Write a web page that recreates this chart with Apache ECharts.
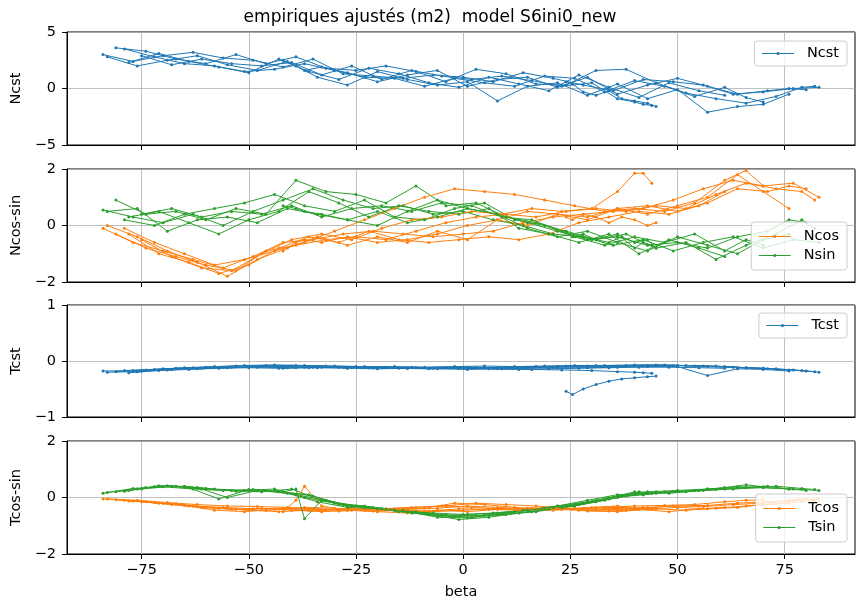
<!DOCTYPE html>
<html>
<head>
<meta charset="utf-8">
<script src="https://cdn.jsdelivr.net/npm/echarts@6/dist/echarts.min.js"></script>
<style>
  html, body { margin: 0; padding: 0; background: #fff; }
  #chart { width: 860px; height: 603px; }
</style>
</head>
<body>
<div id="chart"></div>
<script>
// beta positions of each passage (one array per passage)
const trackBeta = [
  [-84,-77,-70,-63,-56,-49,-42,-35,-28,-21,-14,-7,0,7,14,21,28,35,42,49,56,63,70,77,83],
  [-81,-74,-67,-60,-53,-46,-39,-32,-25,-18,-11,-4,3,10,17,24,31,38,45,52,59,66,73,79,82],
  [-83,-76,-69,-62,-55,-48,-41,-34,-27,-20,-13,-6,1,8,15,22,29,36,43,50,57,64,70,76],
  [-79,-72,-65,-58,-51,-44,-37,-30,-23,-16,-9,-2,5,12,19,26,33,40,47,54,61,66,70],
  [-78,-71,-64,-57,-50,-43,-36,-29,-22,-15,-8,-1,6,13,20,27,34,41,48,55,61],
  [-75,-68,-61,-54,-47,-40,-33,-26,-19,-12,-5,2,9,16,23,30,36,40,42,44],
  [-42,-39,-37,-33,-27,-20,-13,-6,1,8,15,22,29,36,43,50,57,64,71,76,80],
  [24,25.5,28,31,34,37,40,43,45]
];

const ncst = [
  [3.0,2.4,2.9,3.2,2.7,2.5,1.9,2.6,1.3,1.1,0.9,1.2,1.0,0.6,1.4,0.9,0.3,-0.2,0.8,0.6,0.3,-0.5,-0.3,0.0,0.1],
  [3.6,3.3,2.6,2.2,3.0,2.2,2.8,1.8,1.6,2.0,1.5,0.6,1.7,1.3,0.4,0.3,1.6,1.7,0.5,-0.4,-0.9,-1.3,-0.7,0.1,0.2],
  [2.8,2.0,2.5,2.9,2.1,1.6,2.4,1.0,0.3,1.5,0.8,0.3,0.6,-1.1,0.2,0.5,-0.6,0.4,-0.9,-0.1,-2.1,-1.6,-1.4,-0.5],
  [3.5,2.8,2.2,2.0,1.5,1.7,2.2,1.6,1.0,0.9,0.2,0.9,0.5,0.2,1.1,0.9,-0.3,0.7,0.2,-0.7,0.1,-0.8,-1.2],
  [2.3,3.1,2.4,1.9,1.4,2.6,1.5,0.8,1.8,1.3,0.5,0.1,1.0,0.4,-0.2,1.2,0.1,-0.8,0.5,-0.2,-0.6],
  [2.9,2.1,2.6,2.2,2.0,2.3,1.2,2.0,0.8,1.6,1.1,0.8,1.1,0.7,0.2,0.5,-0.9,-1.2,-1.4,-1.5],
  [2.5,2.0,1.6,1.9,1.4,0.6,1.2,1.6,0.2,0.8,1.0,0.1,1.0,-0.5,0.3,0.9,0.2,-0.5,-0.2,0.0,-0.1],
  [0.6,0.4,-0.3,-0.6,-0.2,-0.9,-1.1,-1.3,-1.6]
];

const ncos = [
  [-0.1,-0.6,-0.9,-1.2,-1.5,-1.1,-0.6,-0.5,-0.3,-0.2,-0.3,-0.4,-0.3,-0.2,0.1,0.3,0.4,0.5,0.6,0.9,1.3,1.6,1.4,1.5,1.0],
  [-0.3,-0.8,-1.1,-1.4,-1.6,-0.9,-0.7,-0.5,-0.4,-0.5,-0.2,0.1,0.3,0.4,0.3,0.5,0.6,0.5,0.7,0.6,1.1,1.5,1.3,1.2,0.9],
  [0.0,-0.4,-0.9,-1.3,-1.8,-1.2,-0.8,-0.4,-0.7,-0.4,-0.6,-0.2,-0.5,0.2,0.0,0.4,0.3,0.6,0.4,0.7,1.0,1.8,1.2,0.6],
  [-0.1,-0.6,-1.0,-1.4,-1.2,-0.9,-0.6,-0.2,0.2,0.6,1.0,1.3,1.2,1.1,0.9,0.7,0.5,0.6,0.5,0.8,1.6,1.95,1.4],
  [-0.3,-1.0,-1.3,-1.7,-1.4,-0.8,-0.4,-0.6,-0.2,-0.5,-0.6,-0.5,-0.4,-0.5,-0.3,0.1,0.3,0.5,0.4,0.7,1.2],
  [-0.5,-1.1,-1.5,-1.6,-1.0,-0.5,-0.3,-0.5,-0.1,0.2,0.3,0.5,0.4,0.6,0.5,0.6,1.2,1.85,1.85,1.5],
  [-0.9,-0.6,-0.5,-0.6,-0.4,-0.6,-0.5,-0.3,0.0,0.2,0.5,0.4,0.2,0.6,0.7,0.5,0.8,1.3,1.2,1.4,1.3],
  [0.3,0.2,0.4,0.3,0.1,0.3,0.2,0.0,0.1]
];

const nsin = [
  [0.55,0.3,0.1,0.4,0.0,0.5,0.9,1.3,0.9,0.6,0.7,0.4,0.5,0.2,0.0,-0.3,-0.4,-0.7,-0.5,-0.9,-0.6,-0.4,-0.8,-0.5,-0.6],
  [0.9,0.4,0.5,0.2,0.6,0.4,1.6,1.2,1.1,0.8,1.4,0.7,0.8,0.3,0.1,-0.2,-0.5,-0.3,-0.8,-0.6,-1.2,-0.7,-0.3,0.2,-0.1],
  [0.5,0.6,-0.2,0.2,0.3,0.1,0.6,0.4,0.2,0.5,0.1,0.3,0.6,0.4,-0.1,-0.4,-0.2,-0.6,-0.9,-0.4,-0.7,-1.0,-0.5,-0.3],
  [0.2,0.0,0.4,0.6,0.8,1.1,0.7,0.5,0.9,0.3,0.2,0.6,0.8,0.2,0.0,-0.4,-0.7,-0.4,-0.6,-0.3,-0.9,-0.5,-0.7],
  [0.3,0.5,0.1,-0.3,0.2,0.5,1.2,0.8,0.3,0.7,0.5,0.4,0.6,-0.1,-0.3,-0.6,-0.3,-1.0,-0.5,-0.8,-1.1],
  [0.4,0.6,0.3,0.5,0.4,0.7,0.3,0.6,0.7,0.5,0.8,0.7,0.3,0.2,-0.2,-0.5,-0.3,-0.8,-0.6,-0.7],
  [0.7,0.6,0.5,0.4,0.2,0.0,0.5,0.9,0.6,0.4,0.1,-0.2,-0.5,-0.4,-0.7,-0.6,-0.8,-0.4,-0.2,0.2,0.1],
  [-0.2,-0.4,-0.3,-0.5,-0.6,-0.4,-0.6,-0.5,-0.8]
];

const tcst = [
  [-0.18,-0.17,-0.14,-0.12,-0.11,-0.10,-0.10,-0.11,-0.11,-0.12,-0.12,-0.13,-0.12,-0.13,-0.12,-0.11,-0.10,-0.10,-0.09,-0.08,-0.09,-0.11,-0.13,-0.16,-0.20],
  [-0.19,-0.16,-0.13,-0.11,-0.09,-0.08,-0.08,-0.09,-0.10,-0.11,-0.12,-0.11,-0.12,-0.11,-0.10,-0.09,-0.08,-0.08,-0.07,-0.08,-0.09,-0.12,-0.14,-0.17,-0.19],
  [-0.20,-0.19,-0.16,-0.14,-0.12,-0.11,-0.12,-0.12,-0.13,-0.14,-0.13,-0.14,-0.15,-0.14,-0.13,-0.12,-0.12,-0.11,-0.10,-0.10,-0.26,-0.14,-0.15,-0.18],
  [-0.17,-0.15,-0.12,-0.10,-0.08,-0.07,-0.08,-0.09,-0.10,-0.10,-0.11,-0.10,-0.09,-0.10,-0.09,-0.08,-0.08,-0.07,-0.07,-0.09,-0.10,-0.12,-0.13],
  [-0.21,-0.17,-0.15,-0.13,-0.12,-0.13,-0.12,-0.11,-0.12,-0.13,-0.14,-0.13,-0.14,-0.15,-0.14,-0.13,-0.12,-0.11,-0.11,-0.12,-0.13],
  [-0.18,-0.15,-0.13,-0.11,-0.10,-0.09,-0.10,-0.11,-0.12,-0.11,-0.12,-0.13,-0.14,-0.15,-0.16,-0.17,-0.19,-0.20,-0.21,-0.22],
  [-0.13,-0.12,-0.11,-0.11,-0.12,-0.12,-0.13,-0.12,-0.11,-0.12,-0.11,-0.10,-0.09,-0.09,-0.08,-0.08,-0.10,-0.12,-0.14,-0.16,-0.18],
  [-0.54,-0.60,-0.50,-0.42,-0.36,-0.32,-0.30,-0.28,-0.27]
];

const tcos = [
  [-0.05,-0.12,-0.20,-0.30,-0.35,-0.40,-0.38,-0.45,-0.42,-0.48,-0.45,-0.50,-0.45,-0.40,-0.42,-0.45,-0.40,-0.35,-0.38,-0.30,-0.32,-0.25,-0.20,-0.12,-0.05],
  [-0.08,-0.15,-0.22,-0.35,-0.42,-0.45,-0.40,-0.43,-0.38,-0.40,-0.35,-0.30,-0.20,-0.25,-0.30,-0.38,-0.42,-0.45,-0.40,-0.45,-0.38,-0.30,-0.22,-0.15,-0.10],
  [-0.05,-0.10,-0.18,-0.25,-0.30,-0.32,-0.35,-0.40,-0.45,-0.50,-0.55,-0.45,-0.50,-0.42,-0.38,-0.35,-0.48,-0.50,-0.42,-0.35,-0.40,-0.35,-0.25,-0.20],
  [-0.10,-0.18,-0.28,-0.45,-0.50,-0.42,-0.35,-0.38,-0.45,-0.40,-0.38,-0.20,-0.25,-0.35,-0.42,-0.38,-0.35,-0.30,-0.28,-0.25,-0.15,-0.10,-0.08],
  [-0.12,-0.20,-0.30,-0.38,-0.45,-0.50,-0.45,-0.48,-0.42,-0.45,-0.48,-0.40,-0.42,-0.45,-0.40,-0.45,-0.48,-0.42,-0.50,-0.40,-0.35],
  [-0.15,-0.25,-0.35,-0.42,-0.38,-0.45,-0.50,-0.45,-0.40,-0.35,-0.30,-0.35,-0.40,-0.38,-0.42,-0.35,-0.30,-0.38,-0.35,-0.40],
  [-0.50,-0.10,0.40,-0.30,-0.45,-0.48,-0.42,-0.38,-0.30,-0.35,-0.40,-0.38,-0.45,-0.42,-0.35,-0.30,-0.28,-0.20,-0.15,-0.10,-0.05],
  [-0.40,-0.42,-0.38,-0.35,-0.40,-0.38,-0.42,-0.40,-0.38]
];

const tsin = [
  [0.15,0.32,0.38,0.30,0.25,0.28,0.20,0.05,-0.25,-0.35,-0.45,-0.55,-0.60,-0.55,-0.45,-0.35,-0.20,0.00,0.10,0.20,0.25,0.30,0.35,0.30,0.25],
  [0.20,0.35,0.40,0.32,0.22,0.25,0.10,-0.10,-0.30,-0.42,-0.50,-0.62,-0.65,-0.60,-0.50,-0.35,-0.15,0.05,0.15,0.20,0.28,0.35,0.40,0.32,0.28],
  [0.18,0.30,0.42,0.35,0.00,0.25,0.15,-0.15,-0.35,-0.40,-0.50,-0.70,-0.72,-0.60,-0.45,-0.30,-0.10,0.10,0.15,0.20,0.30,0.38,0.35,0.30],
  [0.22,0.38,0.40,0.30,0.25,0.30,0.00,-0.20,-0.30,-0.45,-0.55,-0.68,-0.62,-0.50,-0.40,-0.30,-0.10,0.15,0.20,0.25,0.35,0.45,0.38],
  [0.25,0.42,0.35,-0.05,0.28,0.20,0.10,-0.25,-0.35,-0.50,-0.60,-0.78,-0.70,-0.55,-0.40,-0.25,-0.05,0.20,0.15,0.25,0.30],
  [0.30,0.40,0.30,0.25,0.20,0.30,-0.10,-0.30,-0.40,-0.55,-0.65,-0.70,-0.60,-0.50,-0.35,-0.15,0.05,0.20,0.10,0.15],
  [0.20,0.30,-0.75,-0.10,-0.30,-0.40,-0.50,-0.65,-0.60,-0.55,-0.45,-0.30,-0.15,0.00,0.20,0.25,0.30,0.35,0.40,0.30,0.25],
  [-0.30,-0.28,-0.20,-0.10,0.00,0.05,0.10,0.15,0.20]
];

// axis settings
const xTicks = [-75, -50, -25, 0, 25, 50, 75];
const yRanges = [[-5, 5, 5], [-2, 2, 2], [-1, 1, 1], [-2, 2, 2]];
const yNames = ['Ncst', 'Ncos-sin', 'Tcst', 'Tcos-sin'];
const titleText = 'empiriques ajustés (m2)  model S6ini0_new';

const BLUE = '#1f77b4', ORANGE = '#ff7f0e', GREEN = '#2ca02c';
const FONT = 'DejaVu Sans';

const panels = [
  [{ name: 'Ncst', color: BLUE, vals: ncst }],
  [{ name: 'Ncos', color: ORANGE, vals: ncos }, { name: 'Nsin', color: GREEN, vals: nsin }],
  [{ name: 'Tcst', color: BLUE, vals: tcst }],
  [{ name: 'Tcos', color: ORANGE, vals: tcos }, { name: 'Tsin', color: GREEN, vals: tsin }]
];

const gridTops = [32, 169, 305, 441];
const gridHeights = [113, 113, 112, 113];
const legendTops = [41, 222, 313, 494];

const minus = v => String(v).replace('-', '\u2212');

const grids = [], xAxes = [], yAxes = [], legends = [], series = [];

panels.forEach((parts, p) => {
  grids.push({
    left: 67, right: 5, top: gridTops[p], height: gridHeights[p],
    show: true, borderColor: '#000', borderWidth: 1, backgroundColor: 'transparent'
  });
  const last = p === panels.length - 1;
  xAxes.push({
    type: 'value', gridIndex: p, min: -92.4, max: 91.4,
    minInterval: 25, maxInterval: 25,
    axisLine: { show: true, onZero: false, lineStyle: { color: '#000', width: 1 } },
    axisTick: { show: true, length: 5, customValues: xTicks, lineStyle: { color: '#000' } },
    axisLabel: {
      show: last, customValues: xTicks,
      margin: 9, color: '#000', fontSize: 14.5, fontFamily: FONT, formatter: minus
    },
    splitLine: { show: true, lineStyle: { color: '#b0b0b0', width: 0.8 } },
    name: last ? 'beta' : '', nameLocation: 'middle', nameGap: 31,
    nameTextStyle: { color: '#000', fontSize: 14.5, fontFamily: FONT }
  });
  const [lo, hi, step] = yRanges[p];
  yAxes.push({
    type: 'value', gridIndex: p, min: lo, max: hi, interval: step,
    axisLine: { show: true, onZero: false, lineStyle: { color: '#000', width: 1 } },
    axisTick: { show: true, length: 5, lineStyle: { color: '#000' } },
    axisLabel: { margin: 11, color: '#000', fontSize: 14.5, fontFamily: FONT, formatter: minus },
    splitLine: { show: true, lineStyle: { color: '#b0b0b0', width: 0.8 } },
    name: yNames[p], nameLocation: 'middle', nameGap: 41,
    nameTextStyle: { color: '#000', fontSize: 14.5, fontFamily: FONT }
  });
  legends.push({
    data: parts.map(s => s.name), orient: 'vertical',
    right: 13, top: legendTops[p],
    itemWidth: 32, itemHeight: 4, itemGap: 4,
    padding: parts.length > 1 ? [7, 8, 7, 7] : [5, 8, 5, 7],
    backgroundColor: 'rgba(255,255,255,0.8)', borderColor: '#cccccc', borderWidth: 1, borderRadius: 3,
    lineStyle: { width: 1 },
    textStyle: { color: '#000', fontSize: 14.5, fontFamily: FONT, padding: [0, 0, 0, 8] },
    selectedMode: false
  });
  // one line per passage; cos and sin curves drawn in turn for each passage
  trackBeta.forEach((beta, t) => {
    parts.forEach(s => {
      series.push({
        type: 'line', name: s.name, xAxisIndex: p, yAxisIndex: p,
        data: beta.map((b, j) => [b, s.vals[t][j]]),
        symbol: 'circle', symbolSize: 3, showSymbol: true,
        color: s.color,
        lineStyle: { width: 1, color: s.color },
        itemStyle: { color: s.color },
        emphasis: { disabled: true }, silent: true, z: 2
      });
    });
  });
});

const chart = echarts.init(document.getElementById('chart'), null, { renderer: 'canvas' });
chart.setOption({
  animation: false,
  backgroundColor: '#fff',
  title: {
    text: titleText, left: 'center', top: 4,
    textStyle: { color: '#000', fontSize: 17, fontWeight: 'normal', fontFamily: FONT }
  },
  grid: grids, xAxis: xAxes, yAxis: yAxes, legend: legends, series: series
});
</script>
</body>
</html>
